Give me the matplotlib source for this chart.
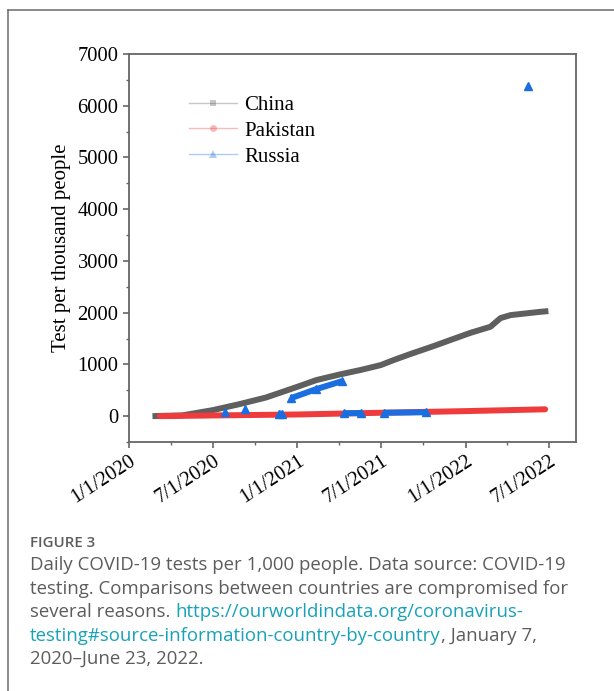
import matplotlib
matplotlib.use("Agg")
import matplotlib.pyplot as plt
import matplotlib.dates as mdates
from matplotlib.lines import Line2D
from matplotlib.text import Annotation
from matplotlib.ticker import MultipleLocator, FuncFormatter
import numpy as np
import pandas as pd

# cumulative tests per thousand people
china_dates = ["2020-02-21", "2020-04-26", "2020-07-01", "2020-08-28", "2020-10-25",
               "2021-01-01", "2021-02-11", "2021-04-03", "2021-05-17", "2021-07-01",
               "2021-07-29", "2021-09-03", "2021-10-24", "2021-11-29", "2022-01-12",
               "2022-02-24", "2022-03-18", "2022-04-09", "2022-06-13", "2022-06-30"]
china_vals = [0, 15, 116, 232, 361, 568, 697, 806, 890, 987, 1084, 1200, 1355,
              1471, 1611, 1727, 1895, 1953, 2017, 2030]

pakistan_dates = ["2020-03-08", "2020-07-01", "2021-01-01", "2021-07-01", "2022-01-01",
                  "2022-06-23"]
pakistan_vals = [0, 13, 32, 65, 97, 132]

# None separates runs of reported values
russia_dates = ["2020-07-27", None, "2020-09-09", None,
                "2020-11-21", "2020-11-28", None,
                "2020-12-18", "2021-02-10", "2021-04-08", None,
                "2021-04-12", "2021-05-18", None,
                "2021-07-09", "2021-10-07", None,
                "2022-05-16"]
russia_vals = [77, None, 135, None,
               45, 50, None,
               348, 520, 677, None,
               55, 60, None,
               65, 75, None,
               6383]

labels = ["China", "Pakistan", "Russia"]
colors = ["#5f5f5f", "#ef3b3b", "#1a6ee0"]
markers = ["s", "o", "^"]


def to_series(dates, vals):
    d = pd.to_datetime([x if x is not None else pd.NaT for x in dates])
    v = np.array([x if x is not None else np.nan for x in vals], dtype=float)
    return d, v


plt.rcParams["font.family"] = ["Liberation Serif", "DejaVu Serif"]

W, H = 614, 691
fig = plt.figure(figsize=(W / 100, H / 100), dpi=100)

# frame around the figure panel (runs off to the right and bottom)
fig.add_artist(Line2D([7.5 / W, 7.5 / W], [0, 1 - 10 / H], color="#6a6a6a", lw=1.1,
                      transform=fig.transFigure))
fig.add_artist(Line2D([7.5 / W, 1], [1 - 10 / H, 1 - 10 / H], color="#6a6a6a", lw=1.1,
                      transform=fig.transFigure))

ax = fig.add_axes([129 / W, 1 - 442 / H, (576 - 129) / W, (442 - 54) / H])

d, v = to_series(china_dates, china_vals)
ax.plot(d, v, color=colors[0], lw=4.3, solid_capstyle="butt", zorder=3)
d, v = to_series(pakistan_dates, pakistan_vals)
ax.plot(d, v, color=colors[1], lw=4.3, solid_capstyle="round", zorder=3)
d, v = to_series(russia_dates, russia_vals)
ax.plot(d, v, color=colors[2], lw=4.3, marker="^", ms=6, mec=colors[2], mfc=colors[2],
        solid_capstyle="butt", zorder=4)

ax.set_xlim(pd.Timestamp("2020-01-01"), pd.Timestamp("2022-08-29"))
ax.set_ylim(-500, 7000)

ax.xaxis.set_major_locator(mdates.MonthLocator(bymonth=[1, 7]))
ax.xaxis.set_minor_locator(mdates.MonthLocator(bymonth=[4, 10]))
ax.xaxis.set_major_formatter(FuncFormatter(
    lambda x, pos: "{0.month}/{0.day}/{0.year}".format(mdates.num2date(x))))
ax.yaxis.set_major_locator(MultipleLocator(1000))
ax.yaxis.set_minor_locator(MultipleLocator(500))

for s in ax.spines.values():
    s.set_color("#666666")
    s.set_linewidth(1.3)
ax.tick_params(which="major", direction="out", length=4, width=1.2, color="#666666",
               labelsize=14.8, labelcolor="black", top=False, right=False)
ax.tick_params(which="minor", direction="out", length=2.5, width=1.0, color="#666666",
               top=False, right=False)
ax.tick_params(axis="x", pad=3)
for lab in ax.get_xticklabels():
    lab.set_rotation(33)
    lab.set_ha("right")
    lab.set_va("top")
    lab.set_rotation_mode("anchor")

ax.set_ylabel("Test per thousand people", fontsize=15, labelpad=5)

handles = [Line2D([], [], color=c, lw=1, alpha=0.35, marker=m,
                  ms=6 if m == "^" else 5, markeredgewidth=0)
           for c, m in zip(colors, markers)]
leg = ax.legend(handles, labels, loc="upper left", bbox_to_anchor=(0.115, 0.915),
                frameon=False, fontsize=15, handlelength=2.3, handletextpad=0.35,
                labelspacing=0.3, borderaxespad=0)
for h, c in zip(leg.legend_handles, colors):
    h.set_markerfacecolor(c)
    h.set_markeredgecolor(c)

# caption below the chart
cap = ["Open Sans", "DejaVu Sans"]
grey = "#5c5c5c"
teal = "#17a2b8"
fs = 13.4
x0 = 30 / W
fig.text(x0, 1 - 543 / H, "FIGURE 3", family=cap, fontsize=10.8,
         fontweight="semibold", color=grey, va="center")
fig.text(x0, 1 - 565 / H, "Daily COVID-19 tests per 1,000 people. Data source: COVID-19",
         family=cap, fontsize=fs, color=grey, va="center")
fig.text(x0, 1 - 589 / H, "testing. Comparisons between countries are compromised for",
         family=cap, fontsize=fs, color=grey, va="center")
t3 = fig.text(x0, 1 - 612 / H, "several reasons. ", family=cap, fontsize=fs,
              color=grey, va="center")
t4 = fig.text(x0, 1 - 636 / H, "testing#source-information-country-by-country",
              family=cap, fontsize=fs, color=teal, va="center")
fig.text(x0, 1 - 659 / H, "2020\u2013June 23, 2022.", family=cap, fontsize=fs,
         color=grey, va="center")

# trailing pieces continue the line right after the preceding text
fig.add_artist(Annotation("https://ourworldindata.org/coronavirus-", xy=(1, 0),
                          xycoords=t3, va="bottom", family=cap, fontsize=fs, color=teal))
fig.add_artist(Annotation(", January 7,", xy=(1, 0), xycoords=t4, va="bottom",
                          family=cap, fontsize=fs, color=grey))

fig.savefig("out.png", dpi=100)
